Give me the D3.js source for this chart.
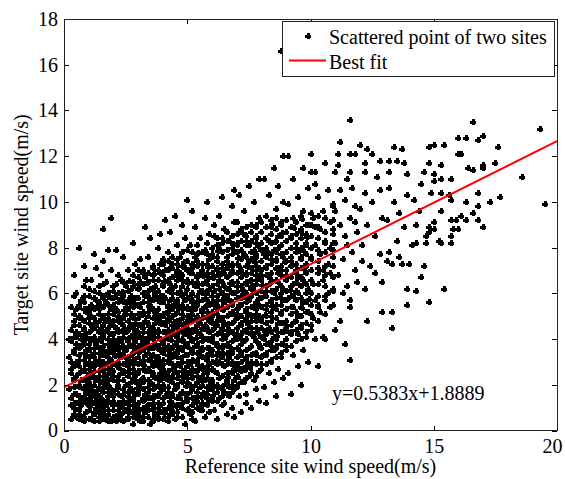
<!DOCTYPE html>
<html>
<head>
<meta charset="utf-8">
<script src="https://cdn.jsdelivr.net/npm/d3@7"></script>
<style>
  body { margin: 0; background: #fff; }
  text { font-family: "Liberation Serif", "Times New Roman", serif; }
</style>
</head>
<body>
<svg id="chart"></svg>
<script>
// Axis ticks, labels and the fitted line
const xTicks = [0, 5, 10, 15, 20];
const yTicks = [0, 2, 4, 6, 8, 10, 12, 14, 16, 18];
const fitSlope = 0.5383;
const fitIntercept = 1.8889;
const fitText = "y=0.5383x+1.8889";
const legendLabels = ["Scattered point of two sites", "Best fit"];
const xLabel = "Reference site wind speed(m/s)";
const yLabel = "Target site wind speed(m/s)";

// Scattered points, as flat x,y pairs,
// grouped by reference site speed
const band0 = [0.3,0.5, 0.6,0.7, 0.8,0.4, 0.4,1.0, 0.7,1.1, 0.9,0.8, 0.3,1.4, 0.5,1.6, 0.8,1.5, 0.6,2.0, 0.4,2.2, 0.9,2.3, 0.3,2.7, 0.7,2.6, 0.5,3.0, 0.8,3.1, 0.4,3.4, 0.6,3.6, 0.9,3.5, 0.3,3.9, 0.7,4.0, 0.5,4.3, 0.8,4.5, 0.4,4.8, 0.6,5.0, 0.9,5.2, 0.3,5.4, 0.7,5.7, 0.5,6.0, 0.8,6.3, 0.4,6.8, 0.6,8.0, 0.2,1.8, 0.2,3.2, 0.5,2.4, 0.6,1.3, 0.8,1.9, 0.4,0.7, 0.7,0.6, 0.9,1.2, 0.3,2.5, 0.6,2.8, 0.9,2.9, 0.5,3.8, 0.8,3.8, 0.3,4.4, 0.6,4.6, 0.9,4.1, 0.5,5.3, 0.8,5.6, 0.4,5.9, 0.7,4.9, 0.9,6.6, 0.2,4.0, 0.5,0.6, 0.4,1.9, 0.7,2.2, 0.9,1.7, 0.3,3.0, 0.6,3.3, 0.8,2.7, 0.5,4.1, 0.4,2.9, 0.7,3.7, 0.6,5.4, 0.8,4.2, 0.9,3.3, 0.5,1.2, 0.3,1.1, 0.7,1.4, 0.9,2.0, 0.6,0.9, 0.8,7.2];

const band1 = [1.1,0.5, 1.4,0.4, 1.7,0.6, 1.9,0.4, 1.2,0.7, 1.6,0.8, 1.0,0.9, 1.3,1.0, 1.5,1.1, 1.8,0.9, 1.9,1.2, 1.1,1.3, 1.4,1.2, 1.7,1.1, 1.0,1.6, 1.2,1.5, 1.5,1.4, 1.6,1.7, 1.8,1.5, 1.3,1.7, 1.9,1.6, 1.1,1.8, 1.0,2.1, 1.2,2.0, 1.4,1.9, 1.6,2.2, 1.8,2.0, 1.9,2.3, 1.3,2.2, 1.7,1.9, 1.5,2.1, 1.0,2.5, 1.2,2.6, 1.4,2.4, 1.6,2.6, 1.8,2.5, 1.1,2.8, 1.5,2.7, 1.9,2.7, 1.7,2.4, 1.0,3.0, 1.3,2.9, 1.4,3.1, 1.6,3.0, 1.8,3.2, 1.2,3.2, 1.7,2.9, 1.9,3.1, 1.5,3.3, 1.0,3.5, 1.2,3.6, 1.4,3.4, 1.6,3.7, 1.8,3.5, 1.3,3.8, 1.7,3.4, 1.9,3.7, 1.1,3.3, 1.0,4.0, 1.2,4.1, 1.5,3.9, 1.6,4.2, 1.8,4.0, 1.4,4.3, 1.9,4.2, 1.1,4.4, 1.7,4.4, 1.0,4.7, 1.3,4.6, 1.5,4.5, 1.7,4.8, 1.9,4.6, 1.2,4.9, 1.6,5.0, 1.8,5.1, 1.0,5.2, 1.4,5.1, 1.1,5.5, 1.5,5.4, 1.7,5.6, 1.9,5.3, 1.3,5.7, 1.0,5.9, 1.2,6.1, 1.6,5.9, 1.8,6.0, 1.4,6.3, 1.9,5.8, 1.1,6.6, 1.5,6.8, 1.7,6.5, 1.3,7.1, 1.9,7.0, 1.6,7.4, 1.2,7.7, 1.8,7.9, 1.6,8.8, 1.9,9.3];

const band2 = [2.1,0.4, 2.5,0.5, 2.8,0.3, 2.3,0.7, 2.7,0.8, 2.0,0.9, 2.4,1.0, 2.9,1.0, 2.2,1.2, 2.6,1.3, 2.0,1.5, 2.8,1.4, 2.4,1.6, 2.1,1.8, 2.7,1.8, 2.5,2.0, 2.9,2.1, 2.2,2.2, 2.0,2.4, 2.6,2.4, 2.4,2.6, 2.8,2.7, 2.1,2.9, 2.5,3.0, 2.9,3.0, 2.3,3.2, 2.7,3.3, 2.0,3.4, 2.5,3.5, 2.9,3.6, 2.2,3.7, 2.6,3.9, 2.0,4.0, 2.4,4.1, 2.8,4.2, 2.2,4.4, 2.6,4.5, 2.9,4.7, 2.0,4.8, 2.4,4.9, 2.7,5.1, 2.1,5.3, 2.5,5.4, 2.9,5.5, 2.3,5.8, 2.7,5.9, 2.0,6.1, 2.5,6.3, 2.8,6.5, 2.2,6.8, 2.6,7.0, 2.9,7.3, 2.4,7.6, 2.1,7.9, 2.8,8.2, 2.3,0.5, 2.6,0.6, 2.9,0.7, 2.2,0.9, 2.5,1.2, 2.8,1.1, 2.3,1.5, 2.6,1.7, 2.9,1.6, 2.2,2.0, 2.7,2.1, 2.3,2.5, 2.9,2.4, 2.6,2.8, 2.2,3.0, 2.8,3.1, 2.4,3.3, 2.1,3.6, 2.7,3.7, 2.3,3.9, 2.9,3.9, 2.5,4.3, 2.1,4.5, 2.7,4.6, 2.3,4.7, 2.8,4.9, 2.5,5.1, 2.2,5.0, 2.6,5.6, 2.9,5.8, 2.4,6.0, 2.1,6.4, 2.7,6.2, 2.3,6.6];

const band3 = [3.1,0.4, 3.5,0.3, 3.8,0.5, 3.3,0.8, 3.7,0.7, 3.0,1.0, 3.4,0.9, 3.9,1.1, 3.2,1.3, 3.6,1.2, 3.0,1.6, 3.8,1.5, 3.4,1.7, 3.1,1.9, 3.7,1.9, 3.5,2.1, 3.9,2.2, 3.2,2.3, 3.0,2.5, 3.6,2.5, 3.4,2.7, 3.8,2.8, 3.1,3.0, 3.5,3.1, 3.9,2.9, 3.3,3.3, 3.7,3.2, 3.0,3.5, 3.5,3.6, 3.9,3.5, 3.2,3.8, 3.6,4.0, 3.0,4.1, 3.4,4.0, 3.8,4.3, 3.2,4.5, 3.6,4.4, 3.9,4.8, 3.0,4.9, 3.4,5.0, 3.7,5.2, 3.1,5.4, 3.5,5.3, 3.9,5.6, 3.3,5.9, 3.7,6.0, 3.0,6.2, 3.5,6.2, 3.8,6.6, 3.2,6.9, 3.6,7.1, 3.9,7.3, 3.4,7.6, 3.1,7.5, 3.8,8.0, 3.5,8.4, 3.3,8.9, 3.9,8.6, 3.2,0.6, 3.6,0.5, 3.9,0.8, 3.2,1.0, 3.5,1.4, 3.8,1.2, 3.3,1.6, 3.6,1.8, 3.9,1.7, 3.2,2.1, 3.7,2.3, 3.3,2.6, 3.9,2.5, 3.6,2.9, 3.2,3.1, 3.8,3.0, 3.4,3.4, 3.1,3.7, 3.7,3.8, 3.3,4.0, 3.9,4.0, 3.5,4.2, 3.1,4.6, 3.7,4.7, 3.3,4.8, 3.8,5.0, 3.5,5.5, 3.2,5.1, 3.6,5.7, 3.9,5.9, 3.4,6.1, 3.1,6.5, 3.7,6.3, 3.3,6.7, 3.6,6.8, 3.0,7.0, 3.9,6.9];

const band4 = [4.2,0.4, 4.6,0.6, 4.9,0.3, 4.1,0.8, 4.4,0.9, 4.8,1.0, 4.0,1.2, 4.3,1.3, 4.7,1.4, 4.9,1.6, 4.2,1.7, 4.5,1.8, 4.0,2.0, 4.8,2.1, 4.3,2.2, 4.6,2.3, 4.1,2.5, 4.9,2.6, 4.4,2.7, 4.7,2.8, 4.0,2.9, 4.2,3.1, 4.6,3.2, 4.9,3.3, 4.3,3.4, 4.1,3.6, 4.7,3.6, 4.5,3.8, 4.0,3.9, 4.8,4.0, 4.2,4.1, 4.6,4.2, 4.4,4.4, 4.9,4.5, 4.1,4.6, 4.7,4.7, 4.3,4.9, 4.0,5.0, 4.5,5.1, 4.8,5.3, 4.2,5.4, 4.6,5.6, 4.9,5.7, 4.1,5.8, 4.4,6.0, 4.7,6.1, 4.0,6.3, 4.3,6.4, 4.8,6.6, 4.5,6.8, 4.1,7.0, 4.9,7.1, 4.4,7.3, 4.7,7.6, 4.2,7.8, 4.6,8.1, 4.9,8.4, 4.3,8.7, 4.8,9.0, 4.5,9.4, 5.0,10.1, 4.1,9.2, 4.5,0.5, 4.3,0.7, 4.7,1.1, 4.9,1.3, 4.4,1.5, 4.1,1.5, 4.6,2.0, 4.2,2.4, 4.8,2.4, 4.5,2.6, 4.3,3.0, 4.8,3.0, 4.5,3.3, 4.9,3.7, 4.2,3.7, 4.6,3.9, 4.3,4.2, 4.9,4.2, 4.5,4.6, 4.2,4.8, 4.8,4.9, 4.6,5.4, 4.3,5.7, 4.9,6.0, 4.5,6.3, 4.2,6.6, 4.7,6.9, 4.6,7.3, 4.0,7.5];

const band5 = [5.3,0.4, 5.7,0.6, 5.1,0.7, 5.5,0.9, 5.9,0.8, 5.2,1.1, 5.6,1.2, 5.0,1.4, 5.4,1.5, 5.8,1.4, 5.1,1.7, 5.5,1.9, 5.9,1.8, 5.3,2.0, 5.7,2.2, 5.0,2.3, 5.4,2.4, 5.8,2.5, 5.2,2.7, 5.6,2.8, 5.9,2.9, 5.0,3.0, 5.4,3.1, 5.8,3.2, 5.2,3.4, 5.6,3.5, 5.0,3.7, 5.9,3.6, 5.4,3.8, 5.7,4.0, 5.1,4.1, 5.5,4.2, 5.9,4.3, 5.3,4.5, 5.7,4.6, 5.0,4.7, 5.4,4.9, 5.8,5.0, 5.2,5.1, 5.6,5.2, 5.0,5.4, 5.9,5.5, 5.4,5.6, 5.7,5.8, 5.1,5.9, 5.5,6.1, 5.9,6.2, 5.3,6.3, 5.7,6.5, 5.0,6.6, 5.4,6.8, 5.8,6.9, 5.2,7.1, 5.6,7.3, 5.9,7.5, 5.3,7.6, 5.7,7.9, 5.1,8.1, 5.5,8.4, 5.9,8.6, 5.3,8.9, 5.7,9.3, 5.2,9.6, 5.8,10.0, 5.2,0.5, 5.6,0.9, 5.8,1.1, 5.3,1.3, 5.7,1.6, 5.1,2.0, 5.5,2.2, 5.9,2.2, 5.3,2.6, 5.7,2.6, 5.1,2.9, 5.5,3.3, 5.9,3.4, 5.3,3.7, 5.6,3.9, 5.2,4.3, 5.8,4.5, 5.5,4.7, 5.1,4.9, 5.9,4.8, 5.3,5.3, 5.7,5.4, 5.2,5.7, 5.6,6.0, 5.8,6.6, 5.4,6.5, 5.1,6.9, 5.6,7.0, 5.4,7.4];

const band6 = [6.2,0.5, 6.6,0.7, 6.9,0.6, 6.1,0.9, 6.4,1.1, 6.8,1.0, 6.0,1.3, 6.3,1.4, 6.7,1.5, 6.5,1.7, 6.9,1.8, 6.2,1.9, 6.0,2.1, 6.6,2.2, 6.4,2.4, 6.8,2.5, 6.1,2.6, 6.5,2.8, 6.9,2.9, 6.3,3.0, 6.7,3.2, 6.0,3.3, 6.4,3.4, 6.8,3.5, 6.2,3.7, 6.6,3.8, 6.9,4.0, 6.0,4.1, 6.4,4.2, 6.7,4.4, 6.1,4.5, 6.5,4.7, 6.9,4.8, 6.3,4.9, 6.7,5.1, 6.0,5.2, 6.4,5.4, 6.8,5.5, 6.2,5.7, 6.6,5.8, 6.9,6.0, 6.1,6.1, 6.5,6.3, 6.8,6.5, 6.3,6.6, 6.7,6.8, 6.0,6.9, 6.4,7.1, 6.8,7.3, 6.2,7.4, 6.6,7.6, 6.9,7.8, 6.3,8.0, 6.7,8.3, 6.1,8.5, 6.5,8.8, 6.9,9.1, 6.3,9.4, 6.8,9.8, 6.4,10.2, 6.9,10.5, 6.1,9.0, 6.5,1.2, 6.7,1.9, 6.3,2.3, 6.9,2.2, 6.2,2.9, 6.6,3.1, 6.4,3.6, 6.8,3.9, 6.2,4.2, 6.6,4.4, 6.4,4.8, 6.8,5.2, 6.1,5.5, 6.5,5.6, 6.3,6.2, 6.7,6.2, 6.5,6.9, 6.2,7.0, 6.8,7.0, 6.6,7.9, 6.0,7.7, 6.4,8.4];

const band7 = [7.2,0.8, 7.6,1.0, 7.9,1.3, 7.1,1.5, 7.4,1.6, 7.8,1.8, 7.0,1.9, 7.3,2.1, 7.7,2.2, 7.5,2.4, 7.9,2.6, 7.2,2.7, 7.0,2.9, 7.6,3.0, 7.4,3.2, 7.8,3.3, 7.1,3.5, 7.5,3.6, 7.9,3.8, 7.3,3.9, 7.7,4.1, 7.0,4.2, 7.4,4.4, 7.8,4.5, 7.2,4.6, 7.6,4.8, 7.9,5.0, 7.0,5.1, 7.4,5.2, 7.7,5.4, 7.1,5.5, 7.5,5.7, 7.9,5.8, 7.3,6.0, 7.7,6.1, 7.0,6.3, 7.4,6.4, 7.8,6.6, 7.2,6.7, 7.6,6.9, 7.9,7.1, 7.1,7.2, 7.5,7.4, 7.8,7.6, 7.3,7.7, 7.7,7.9, 7.0,8.1, 7.4,8.3, 7.8,8.5, 7.2,8.7, 7.6,9.0, 7.9,9.3, 7.3,9.6, 7.7,10.0, 7.1,10.3, 7.5,10.7, 7.9,11.0, 7.4,1.2, 7.8,2.9, 7.2,3.4, 7.6,4.3, 7.4,4.9, 7.8,5.3, 7.2,5.9, 7.6,6.3, 7.4,6.8, 7.8,7.0, 7.2,7.9, 7.5,8.1, 7.0,9.1, 7.8,8.9];

const band8 = [8.2,1.2, 8.6,1.5, 8.1,1.9, 8.5,2.1, 8.9,2.3, 8.3,2.5, 8.7,2.7, 8.0,2.9, 8.4,3.1, 8.8,3.2, 8.2,3.4, 8.6,3.6, 8.9,3.8, 8.1,4.0, 8.5,4.1, 8.9,4.3, 8.3,4.5, 8.7,4.7, 8.0,4.8, 8.4,5.0, 8.8,5.2, 8.2,5.3, 8.6,5.5, 8.9,5.7, 8.1,5.9, 8.5,6.0, 8.9,6.2, 8.3,6.4, 8.7,6.5, 8.0,6.7, 8.4,6.9, 8.8,7.0, 8.2,7.2, 8.6,7.4, 8.9,7.6, 8.1,7.7, 8.5,7.9, 8.8,8.1, 8.3,8.3, 8.7,8.5, 8.0,8.7, 8.4,8.9, 8.8,9.1, 8.2,9.4, 8.6,9.7, 8.9,10.0, 8.3,10.3, 8.7,10.7, 8.1,11.0, 8.5,11.5, 8.9,12.0, 8.8,16.6, 8.4,5.7, 8.6,4.4, 8.2,6.1, 8.7,6.9, 8.4,7.5, 8.5,3.5, 8.7,8.0];

const band9 = [9.2,1.6, 9.6,2.0, 9.1,2.5, 9.5,2.8, 9.9,3.0, 9.3,3.3, 9.7,3.5, 9.0,3.7, 9.4,3.9, 9.8,4.1, 9.2,4.3, 9.6,4.5, 9.0,4.8, 9.5,5.0, 9.9,5.2, 9.3,5.4, 9.7,5.6, 9.1,5.8, 9.5,6.0, 9.9,6.2, 9.3,6.4, 9.7,6.6, 9.0,6.8, 9.4,7.0, 9.8,7.2, 9.2,7.4, 9.6,7.6, 9.0,7.8, 9.4,8.0, 9.8,8.2, 9.2,8.5, 9.6,8.7, 9.9,9.0, 9.3,9.3, 9.7,9.6, 9.1,9.9, 9.5,10.2, 9.9,10.6, 9.3,11.0, 9.7,11.5, 9.1,12.0, 9.5,4.2, 9.3,5.9, 9.7,7.9, 9.5,6.7];

const band10to14 = [10.3,2.8, 10.2,4.0, 10.5,4.1, 10.6,4.0, 11.0,4.4, 10.0,4.4, 10.1,4.9, 10.4,5.2, 10.8,5.4, 10.2,5.7, 10.6,5.9, 10.9,6.2, 10.1,6.4, 10.5,6.6, 10.8,6.9, 10.3,7.1, 10.7,7.3, 10.0,7.5, 10.4,7.7, 10.9,7.9, 10.2,8.1, 10.6,8.3, 10.9,8.6, 10.4,8.8, 10.8,9.1, 10.1,9.3, 10.5,9.6, 10.9,9.9, 10.3,10.2, 10.7,10.5, 10.2,10.8, 10.0,11.3, 10.2,11.3, 11.0,11.3, 10.6,11.7, 10.0,12.1, 10.7,6.0, 10.3,5.5, 10.5,7.0, 10.8,8.0, 10.2,8.9,
  11.6,3.1, 11.4,3.8, 11.6,5.4, 11.6,5.7, 11.2,4.8, 11.5,6.3, 11.1,6.8, 11.8,7.0, 11.3,7.5, 11.7,7.8, 11.0,8.2, 11.4,8.5, 11.9,8.7, 11.2,9.0, 11.6,9.3, 11.0,9.6, 11.8,9.8, 11.4,10.1, 11.2,10.5, 11.7,10.6, 11.5,11.0, 11.6,11.3, 11.1,11.6, 11.2,12.6, 11.6,12.1, 11.8,12.1, 11.1,12.1, 11.6,13.6, 11.3,6.0, 11.9,6.5, 11.5,8.1, 11.8,9.1,
  12.0,12.5, 12.3,12.3, 12.5,12.1, 12.8,11.8, 12.2,11.7, 12.2,11.3, 12.7,11.1, 12.2,6.2, 12.3,4.8, 12.9,5.2, 12.9,6.5, 12.4,7.2, 12.8,7.7, 12.1,8.1, 12.6,8.5, 12.3,9.0, 12.9,9.3, 12.0,9.7, 12.5,10.0, 12.2,10.4, 12.8,10.5, 12.6,6.9, 12.1,7.4,
  13.4,12.4, 13.7,12.3, 13.2,11.8, 13.5,11.8, 13.8,11.7, 13.2,11.3, 13.9,11.2, 13.3,4.5, 13.3,5.2, 13.9,5.5, 13.9,6.2, 13.3,7.3, 13.7,7.3, 13.1,7.4, 13.6,7.6, 13.2,7.8, 13.5,8.3, 13.8,8.9, 13.1,9.2, 13.6,9.5, 13.4,10.0, 13.9,10.3, 13.2,10.6,
  14.8,12.4, 14.8,11.7, 14.6,11.3, 14.3,6.1, 14.8,5.6, 14.6,7.2, 14.5,6.7, 14.0,7.3, 14.1,8.1, 14.3,8.2, 14.7,8.2, 14.7,8.5, 14.3,9.0, 14.8,8.9, 14.8,8.7, 14.4,9.6, 14.2,10.1, 14.9,10.4, 14.5,10.8];

const band15up = [16.6,13.5, 19.3,13.2, 16.0,12.8, 16.3,12.8, 16.8,12.7, 17.0,12.9, 17.6,12.4, 15.0,12.5, 15.4,12.5, 16.0,12.1, 16.1,12.1, 15.3,11.6, 16.4,11.5, 16.6,11.4, 17.0,11.6, 17.0,11.5, 17.5,11.7, 15.0,11.2, 15.0,10.9, 15.3,11.0, 15.7,11.0, 18.6,11.1, 15.3,10.4, 15.6,10.3, 15.7,10.1, 16.8,10.4, 16.3,10.0, 17.3,10.0, 17.7,10.2, 19.5,9.9, 16.8,9.8, 15.3,9.6, 15.0,9.1, 15.7,9.2, 15.9,9.2, 16.1,9.4, 16.3,9.2, 16.6,9.5, 16.8,9.2, 17.0,8.9, 15.8,8.8, 16.0,8.8, 15.0,8.8, 15.7,8.5, 15.3,8.2, 15.7,8.2, 15.4,6.2, 15.2,8.3];

const coreLow = [1.05,1.05, 1.35,1.35, 1.65,0.65, 1.85,1.85, 1.15,2.45, 1.45,2.85, 1.75,3.25, 1.25,3.95, 1.55,4.25, 1.85,4.75, 1.05,5.05, 1.35,5.45, 1.65,2.05, 1.95,2.55, 1.25,1.65, 1.55,3.55, 1.85,3.85, 1.15,4.55, 1.45,0.75, 1.75,1.35,
  2.05,0.55, 2.35,1.15, 2.65,1.45, 2.95,1.85, 2.15,2.15, 2.45,2.55, 2.75,2.95, 2.05,3.25, 2.35,3.65, 2.65,4.05, 2.95,4.35, 2.15,4.85, 2.45,5.25, 2.75,5.55, 2.05,5.85, 2.55,0.85, 2.85,2.25, 2.25,2.75, 2.55,3.15, 2.85,3.45, 2.15,3.85, 2.45,4.45, 2.75,4.95, 2.35,6.05, 2.65,6.55,
  3.05,0.65, 3.35,1.05, 3.65,1.45, 3.95,1.85, 3.15,2.25, 3.45,2.65, 3.75,3.05, 3.05,3.45, 3.35,3.85, 3.65,4.25, 3.95,4.65, 3.15,5.05, 3.45,5.45, 3.75,5.85, 3.05,6.25, 3.55,0.95, 3.85,2.35, 3.25,2.85, 3.55,3.25, 3.85,3.55, 3.15,4.05, 3.45,4.55, 3.75,5.15, 3.35,6.45, 3.65,6.85, 3.25,1.35, 3.95,2.75,
  4.05,0.75, 4.35,1.15, 4.65,1.55, 4.95,1.95, 4.15,2.35, 4.45,2.75, 4.75,3.15, 4.05,3.55, 4.35,3.95, 4.65,4.35, 4.95,4.75, 4.15,5.15, 4.45,5.55, 4.75,5.95, 4.05,6.55, 4.55,1.05, 4.85,2.45, 4.25,2.95, 4.55,3.45, 4.85,3.85, 4.15,4.25, 4.45,4.75, 4.75,5.35, 4.35,6.25, 4.65,6.65, 4.25,7.05, 4.85,7.35, 4.55,1.95];

const coreHigh = [5.05,0.95, 5.35,1.25, 5.65,1.65, 5.95,2.05, 5.15,2.45, 5.45,2.85, 5.75,3.25, 5.05,3.65, 5.35,4.05, 5.65,4.45, 5.95,4.85, 5.15,5.25, 5.45,5.65, 5.75,6.05, 5.05,6.45, 5.55,1.45, 5.85,2.65, 5.25,3.05, 5.55,3.55, 5.85,3.95, 5.15,4.35, 5.45,4.85, 5.75,5.45, 5.35,6.35, 5.65,6.75, 5.25,7.25, 5.85,7.15, 5.45,7.75,
  6.05,1.55, 6.35,1.85, 6.65,2.35, 6.95,2.65, 6.15,3.05, 6.45,3.35, 6.75,3.65, 6.05,3.85, 6.35,4.35, 6.65,4.65, 6.95,5.05, 6.15,5.35, 6.45,5.95, 6.75,6.45, 6.05,6.65, 6.55,2.05, 6.85,2.85, 6.25,3.45, 6.55,4.05, 6.85,4.25, 6.15,4.75, 6.45,5.25, 6.75,5.65, 6.35,6.85, 6.65,7.25, 6.25,7.85, 6.85,8.15,
  7.05,2.35, 7.35,2.65, 7.65,3.35, 7.95,3.65, 7.15,4.05, 7.45,4.65, 7.75,4.95, 7.05,5.35, 7.35,5.85, 7.65,6.25, 7.95,6.85, 7.15,6.95, 7.45,7.15, 7.75,7.35, 7.05,7.55, 7.55,2.75, 7.85,4.25, 7.25,4.35, 7.55,5.05, 7.85,5.55, 7.25,6.15, 7.55,6.55, 7.85,8.05, 7.35,8.55,
  8.05,3.25, 8.35,3.75, 8.65,4.15, 8.95,4.65, 8.15,5.05, 8.45,5.45, 8.75,5.85, 8.05,6.35, 8.35,6.65, 8.65,7.05, 8.95,7.35, 8.25,7.85, 8.55,8.25, 8.85,8.65, 8.45,9.05, 8.15,4.35,
  9.05,4.35, 9.35,4.75, 9.65,5.35, 9.95,5.75, 9.15,6.15, 9.45,6.45, 9.75,7.05, 9.25,7.25, 9.55,7.85, 9.85,8.45, 9.35,8.85, 9.65,9.25];

// Extra points in the solid black core: reference speed, then target speeds
const coreColumns = [
  [0.4, [0.7,1.2,1.6,2.3,2.8,3.5,4.1,4.6,5.1]],
  [0.6, [0.5,1.0,1.5,1.9,2.5,3.1,3.7,4.2,4.9,5.5]],
  [0.8, [0.6,1.3,1.8,2.2,2.6,3.4,3.9,4.4,4.8,5.3,5.9]],
  [1.0, [0.5,1.1,1.4,1.9,2.3,2.7,3.2,3.8,4.3,4.9,5.4,6.2]],
  [1.2, [0.4,0.8,1.2,1.7,2.3,2.8,3.0,3.4,3.9,4.5,4.7,5.3,5.8]],
  [1.4, [0.6,0.9,1.5,1.8,2.2,2.6,3.0,3.6,4.0,4.4,4.8,5.3,5.6,6.0]],
  [1.6, [0.5,1.0,1.3,1.9,2.4,2.8,3.3,3.5,4.1,4.6,4.9,5.4,5.8,6.4]],
  [1.8, [0.4,0.7,1.3,1.7,2.2,2.7,3.0,3.4,3.8,4.3,4.5,4.9,5.5,5.9]],
  [2.0, [0.6,1.1,1.3,1.7,2.2,2.6,2.9,3.5,3.8,4.2,4.6,5.1,5.5,5.8,6.3]],
  [2.2, [0.5,0.7,1.1,1.6,1.9,2.4,2.8,3.3,3.5,4.0,4.3,4.8,5.2,5.6,6.0]],
  [2.4, [0.4,0.8,1.3,1.8,2.2,2.5,2.9,3.4,3.7,4.3,4.6,5.0,5.6,5.9,6.5]],
  [2.6, [0.5,1.0,1.2,1.5,2.0,2.6,3.0,3.2,3.7,4.0,4.4,4.8,5.3,5.7,6.1]],
  [2.8, [0.6,0.9,1.3,1.7,2.3,2.5,2.9,3.4,3.8,4.1,4.5,5.0,5.4,5.7,6.3,6.8]],
  [3.0, [0.5,0.8,1.2,1.7,2.1,2.6,2.9,3.2,3.7,4.2,4.6,5.1,5.5,5.8,6.4,6.7]],
  [3.2, [0.4,0.9,1.4,1.8,2.3,2.7,3.0,3.5,3.9,4.3,4.7,5.2,5.6,6.0,6.4,7.0]],
  [3.4, [0.6,1.1,1.4,1.9,2.2,2.6,3.1,3.6,3.8,4.3,4.7,5.2,5.6,5.9,6.5,6.9]],
  [3.6, [0.4,0.9,1.1,1.5,2.0,2.4,2.8,3.3,3.6,4.1,4.5,4.9,5.3,5.8,6.2,6.6,7.2]],
  [3.8, [0.6,1.0,1.6,2.0,2.3,2.9,3.2,3.7,4.1,4.4,4.9,5.3,5.7,6.1,6.6,7.0]],
  [4.0, [0.5,0.9,1.4,1.8,2.3,2.7,3.1,3.4,3.8,4.3,4.7,5.1,5.6,5.9,6.4,6.8,7.3]],
  [4.2, [0.6,1.0,1.5,1.9,2.2,2.6,3.3,3.5,4.0,4.4,4.9,5.2,5.5,6.1,6.5,7.0,7.4]],
  [4.4, [0.7,1.2,1.6,2.1,2.4,2.9,3.2,3.6,4.2,4.6,5.0,5.3,5.8,6.2,6.7,7.1,7.6]],
  [4.6, [0.8,1.1,1.4,1.9,2.5,2.9,3.4,3.7,4.1,4.5,4.8,5.2,5.7,6.0,6.6,7.0,7.5]],
  [4.8, [0.6,1.2,1.7,2.2,2.6,3.0,3.5,3.9,4.3,4.6,5.1,5.5,5.9,6.3,6.8,7.2,7.8]],
  [5.0, [0.9,1.3,1.6,2.1,2.5,2.8,3.3,3.8,4.2,4.5,5.0,5.3,5.8,6.2,6.5,7.0,7.4,7.9]],
  [5.2, [0.8,1.4,1.8,2.3,2.6,3.1,3.5,3.9,4.4,4.8,5.4,5.6,6.0,6.5,6.9,7.3,7.8]],
  [5.4, [1.0,1.3,1.7,2.1,2.6,3.0,3.4,3.7,4.3,4.6,5.0,5.5,5.9,6.3,6.7,7.2,7.7,8.1]],
  [5.6, [1.1,1.5,2.0,2.4,2.7,3.2,3.6,4.1,4.5,4.9,5.3,5.7,6.1,6.4,6.9,7.3,7.8]],
  [5.8, [1.2,1.6,1.9,2.3,2.8,3.1,3.6,4.0,4.4,4.9,5.2,5.7,6.0,6.4,6.8,7.3,7.7,8.2]],
  [6.0, [1.4,1.8,2.2,2.7,3.0,3.5,3.9,4.4,4.7,5.0,5.6,5.9,6.3,6.7,7.2,7.6,8.0]],
  [6.2, [1.3,1.7,2.0,2.5,3.0,3.3,3.8,4.2,4.6,5.1,5.5,5.9,6.4,6.8,7.1,7.6,8.1,8.4]],
  [6.4, [1.5,1.9,2.4,2.9,3.2,3.7,4.0,4.5,4.9,5.3,5.7,6.0,6.5,6.9,7.3,7.8,8.2]],
  [6.6, [1.6,2.1,2.5,2.9,3.4,3.7,4.2,4.6,5.0,5.4,5.9,6.2,6.7,7.1,7.4,7.9,8.3,8.7]],
  [6.8, [1.7,2.0,2.6,3.0,3.4,3.9,4.3,4.7,5.1,5.6,6.0,6.4,6.9,7.2,7.7,8.0,8.5]],
  [7.0, [2.0,2.4,2.8,3.2,3.6,4.0,4.5,4.9,5.3,5.8,6.1,6.5,6.9,7.3,7.8,8.2,8.6]],
  [7.2, [2.1,2.6,3.0,3.3,3.8,4.2,4.7,5.0,5.5,5.8,6.3,6.7,7.0,7.5,7.9,8.3,8.8]],
  [7.4, [2.3,2.8,3.1,3.5,4.0,4.3,4.8,5.3,5.6,6.0,6.5,6.9,7.2,7.6,8.1,8.5,8.9]],
  [7.6, [2.5,2.9,3.3,3.7,4.2,4.5,5.0,5.4,5.9,6.2,6.6,7.1,7.5,7.8,8.3,8.7]],
  [7.8, [2.4,3.0,3.4,3.9,4.3,4.8,5.1,5.6,6.0,6.4,6.8,7.2,7.7,8.2,8.4,9.0]],
  [8.0, [2.7,3.2,3.6,4.1,4.5,4.9,5.4,5.8,6.1,6.6,7.0,7.4,7.9,8.2,8.7,9.1]],
  [8.2, [2.9,3.3,3.8,4.2,4.7,5.0,5.5,5.9,6.3,6.8,7.1,7.6,8.0,8.4,8.9]],
  [8.4, [3.0,3.5,3.9,4.3,4.8,5.2,5.6,6.1,6.5,6.9,7.3,7.7,8.2,8.6,9.2]],
  [8.6, [3.2,3.7,4.0,4.5,4.9,5.3,5.8,6.2,6.6,7.1,7.5,7.8,8.3,8.8,9.3]],
  [8.8, [3.4,3.8,4.3,4.7,5.1,5.5,6.0,6.3,6.8,7.2,7.7,8.1,8.5,9.0]],
  [9.0, [3.5,4.0,4.5,4.8,5.3,5.7,6.1,6.6,7.0,7.4,7.8,8.3,8.7,9.2]],
  [9.2, [3.7,4.2,4.6,5.1,5.4,5.9,6.3,6.7,7.2,7.6,8.0,8.4,8.9]],
  [9.4, [3.9,4.4,4.8,5.2,5.7,6.1,6.5,6.9,7.3,7.8,8.2,8.6,9.1]],
  [9.6, [4.0,4.6,5.0,5.4,5.8,6.3,6.7,7.1,7.5,8.0,8.4,8.8,9.4]],
  [9.8, [4.3,4.7,5.2,5.6,6.0,6.4,6.9,7.3,7.7,8.1,8.6,9.0]],
  [10.0, [4.6,5.1,5.5,6.0,6.6,7.0,7.6,8.0,8.5,9.0,9.5]],
  [10.3, [4.8,5.4,5.9,6.4,6.9,7.4,7.9,8.4,8.9,9.4]],
  [10.6, [5.1,5.7,6.3,6.8,7.2,7.8,8.2,8.7,9.3]],
  [10.9, [5.5,6.1,6.7,7.2,7.6,8.2,8.8,9.2,9.8]]
];

// Layout
const W = 565, H = 479;
const margin = { top: 19, right: 8, bottom: 48.5, left: 64 };
const width = W - margin.left - margin.right;
const height = H - margin.top - margin.bottom;

const svg = d3.select("#chart").attr("width", W).attr("height", H);
const g = svg.append("g").attr("transform", `translate(${margin.left},${margin.top})`);

const x = d3.scaleLinear().domain([0, 20]).range([0, width]);
const y = d3.scaleLinear().domain([0, 18]).range([height, 0]);

// Turn the pair lists and the columns into points
const points = [];
[band0, band1, band2, band3, band4, band5, band6, band7, band8, band9,
 band10to14, band15up, coreLow, coreHigh].forEach((b) => {
  for (let i = 0; i < b.length; i += 2) points.push([b[i], b[i + 1]]);
});
coreColumns.forEach(([cx, ys]) => ys.forEach((cy) => points.push([cx, cy])));

// small filled plus, like the MATLAB dot marker
const marker = "M-1.5,-3h3v1.5h1.5v3h-1.5v1.5h-3v-1.5h-1.5v-3h1.5z";

g.append("g")
  .attr("shape-rendering", "crispEdges")
  .selectAll("path")
  .data(points)
  .join("path")
  .attr("d", marker)
  .attr("transform", (d) => `translate(${Math.round(x(d[0]))},${Math.round(y(d[1]))})`)
  .attr("fill", "#000");

// Best fit line
g.append("line")
  .attr("x1", x(0))
  .attr("y1", y(fitIntercept))
  .attr("x2", x(20))
  .attr("y2", y(fitIntercept + fitSlope * 20))
  .attr("stroke", "#ff0000")
  .attr("stroke-width", 2);

// Axes, ticks inside the box on all four sides
function styleAxis(sel) {
  sel.attr("font-family", '"Liberation Serif", "Times New Roman", serif')
    .attr("font-size", 20);
  sel.select(".domain").remove();
  sel.selectAll("line").attr("stroke", "#000").attr("shape-rendering", "crispEdges");
  sel.selectAll("text").attr("fill", "#000");
}

g.append("g")
  .attr("transform", `translate(0,${height})`)
  .call(d3.axisBottom(x).tickValues(xTicks).tickSize(-5).tickPadding(8))
  .call(styleAxis)
  .call((s) => s.selectAll("text").filter((d) => d === 20).attr("dx", -5));

g.append("g")
  .call(d3.axisTop(x).tickValues(xTicks).tickSize(-5).tickFormat(""))
  .call(styleAxis);

g.append("g")
  .call(d3.axisLeft(y).tickValues(yTicks).tickSize(-5).tickPadding(6))
  .call(styleAxis);

g.append("g")
  .attr("transform", `translate(${width},0)`)
  .call(d3.axisRight(y).tickValues(yTicks).tickSize(-5).tickFormat(""))
  .call(styleAxis);

g.append("rect")
  .attr("width", width)
  .attr("height", height)
  .attr("fill", "none")
  .attr("stroke", "#222")
  .attr("shape-rendering", "crispEdges");

// Axis labels
svg.append("text")
  .attr("x", margin.left + width / 2)
  .attr("y", 473)
  .attr("text-anchor", "middle")
  .attr("font-size", 20)
  .text(xLabel);

svg.append("text")
  .attr("transform", `translate(28,${margin.top + height / 2}) rotate(-90)`)
  .attr("text-anchor", "middle")
  .attr("font-size", 20)
  .text(yLabel);

// Fit equation
svg.append("text")
  .attr("x", 332)
  .attr("y", 400)
  .attr("font-size", 20)
  .text(fitText);

// Legend
const legend = svg.append("g");
legend.append("rect")
  .attr("x", 282).attr("y", 21)
  .attr("width", 272).attr("height", 55)
  .attr("fill", "#fff")
  .attr("stroke", "#222")
  .attr("shape-rendering", "crispEdges");
legend.append("path")
  .attr("d", marker)
  .attr("transform", "translate(308,36)")
  .attr("fill", "#000")
  .attr("shape-rendering", "crispEdges");
legend.append("line")
  .attr("x1", 289).attr("x2", 326)
  .attr("y1", 60.5).attr("y2", 60.5)
  .attr("stroke", "#ff0000")
  .attr("stroke-width", 2);
legend.selectAll("text.lbl")
  .data(legendLabels)
  .join("text")
  .attr("class", "lbl")
  .attr("x", 329)
  .attr("y", (d, i) => 43.5 + i * 25.5)
  .attr("font-size", 20)
  .text((d) => d);
</script>
</body>
</html>
